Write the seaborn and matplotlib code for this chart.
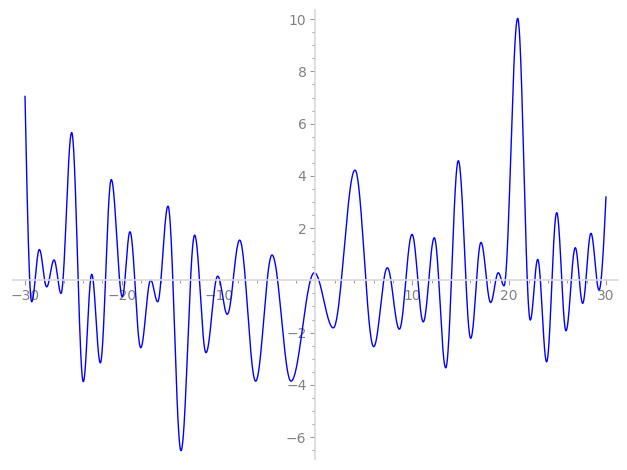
import numpy as np
import pandas as pd
import matplotlib
matplotlib.use("Agg")
import matplotlib.pyplot as plt
import seaborn as sns
from matplotlib.ticker import MultipleLocator, FixedLocator

# Turning points (local extrema) plus end points
x_points = [-30, -29.31, -28.52, -27.76, -27.0, -26.28, -25.18, -23.98, -23.11, -22.22,
            -21.09, -19.95, -19.16, -18.05, -17.02, -16.30, -15.23, -13.89, -12.48, -11.31,
            -10.10, -9.11, -7.83, -6.18, -4.49, -2.53, -0.12, 1.84, 4.08, 6.01,
            7.42, 8.66, 9.97, 11.13, 12.27, 13.45, 14.75, 16.03, 17.09, 18.09,
            18.88, 19.47, 20.88, 22.18, 22.95, 23.87, 24.91, 25.87, 26.83, 27.59,
            28.45, 29.28, 30]
y_points = [7.05, -0.82, 1.18, -0.25, 0.78, -0.50, 5.66, -3.88, 0.23, -3.16,
            3.86, -0.63, 1.86, -2.58, 0.01, -0.82, 2.84, -6.52, 1.73, -2.77,
            0.16, -1.30, 1.54, -3.86, 0.97, -3.86, 0.29, -1.82, 4.22, -2.54,
            0.48, -1.87, 1.76, -1.59, 1.63, -3.35, 4.58, -2.22, 1.45, -0.85,
            0.29, -0.21, 10.03, -1.52, 0.80, -3.12, 2.59, -1.93, 1.25, -0.88,
            1.80, -0.37, 3.20]
x_tick_labels = [-30, -20, -10, 10, 20, 30]
y_tick_labels = [-6, -4, -2, 2, 4, 6, 8, 10]

# Smooth rendering through the read turning points (horizontal tangent at extrema)
xs, ys = [], []
n = len(x_points)
for i in range(n - 1):
    x0, x1 = x_points[i], x_points[i + 1]
    y0, y1 = y_points[i], y_points[i + 1]
    t = np.linspace(0, 1, 40, endpoint=False)
    if i == 0:
        w = np.sin(np.pi / 2 * t)
    elif i == n - 2:
        w = 1 - np.cos(np.pi / 2 * t)
    else:
        w = (1 - np.cos(np.pi * t)) / 2
    xs.extend(x0 + (x1 - x0) * t)
    ys.extend(y0 + (y1 - y0) * w)
xs.append(x_points[-1])
ys.append(y_points[-1])
df = pd.DataFrame({"x": xs, "y": ys})

sns.set_style("white")
fig = plt.figure(figsize=(6.27, 4.70), dpi=100)
ax = fig.add_axes([12.7 / 627, 1 - 459 / 470, (617.7 - 12.7) / 627, (459 - 10) / 470])

sns.lineplot(data=df, x="x", y="y", ax=ax, color="#0000ff", linewidth=1.0,
             sort=False, estimator=None)

ax.set_xlim(-31.27, 31.21)
ax.set_ylim(-6.84, 10.35)

for side in ["top", "right"]:
    ax.spines[side].set_visible(False)
ax.spines["left"].set_position(("data", 0))
ax.spines["bottom"].set_position(("data", 0))
for side in ["left", "bottom"]:
    ax.spines[side].set_color("#d9d9d9")
    ax.spines[side].set_linewidth(1.2)

ax.xaxis.set_major_locator(FixedLocator(x_tick_labels))
ax.yaxis.set_major_locator(FixedLocator(y_tick_labels))
ax.set_xticklabels([str(v).replace("-", "\u2212") for v in x_tick_labels])
ax.set_yticklabels([str(v).replace("-", "\u2212") for v in y_tick_labels])
ax.xaxis.set_minor_locator(MultipleLocator(2))
ax.yaxis.set_minor_locator(MultipleLocator(0.5))
ax.tick_params(axis="both", which="major", direction="out", length=3.5, width=0.8,
               color="#999999", labelcolor="#808080", labelsize=10, pad=3)
ax.tick_params(axis="both", which="minor", direction="out", length=2.2, width=0.7,
               color="#999999")
ax.tick_params(axis="x", which="both", bottom=True)
ax.tick_params(axis="y", which="both", left=True)
ax.set_xlabel("")
ax.set_ylabel("")
ax.grid(False)

fig.savefig("out.png", dpi=100)
